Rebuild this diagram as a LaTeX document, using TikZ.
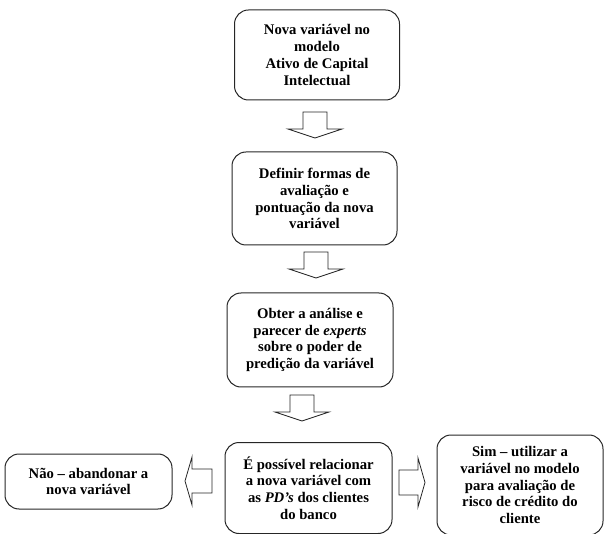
\documentclass[tikz,border=0pt]{standalone}
\usepackage{fontspec}
\setmainfont{Liberation Serif}
\usepackage{tikz}
\usetikzlibrary{positioning}

\newcommand\flowdown[2]{%
  \draw[flowarrow] (#1-12,#2) -- (#1+12,#2) -- (#1+12,#2+17) -- (#1+27,#2+17)
    -- (#1,#2+26) -- (#1-27,#2+17) -- (#1-12,#2+17) -- cycle;
}

\begin{document}
\begin{tikzpicture}[x=1pt, y=-1pt, semithick,
    stepbox/.style={draw=black!85, line width=1pt, rounded corners=14pt,
      align=center, inner sep=1pt,
      font=\fontsize{14.7}{16.8}\selectfont\bfseries},
    flowarrow/.style={draw=black!85, line width=0.8pt, fill=white}]
    \useasboundingbox (0,0) rectangle (605,534);
    % Boxes
    \node[stepbox, minimum width=165pt, minimum height=90pt] (novo) at (317,55)
      {Nova variável no\\modelo\\Ativo de Capital\\Intelectual};
    \node[stepbox, minimum width=165pt, minimum height=93pt] (definir) at (314.5,198.5)
      {Definir formas de\\avaliação e\\pontuação da nova\\variável};
    \node[stepbox, minimum width=166pt, minimum height=94pt] (obter) at (310,340)
      {Obter a análise e\\parecer de \textit{experts}\\sobre o poder de\\predição da variável};
    \node[stepbox, minimum width=167pt, minimum height=91pt] (relacionar) at (308.5,488)
      {É possível relacionar\\a nova variável com\\as \textit{PD’s} dos clientes\\do banco};
    \node[stepbox, minimum width=167pt, minimum height=55pt] (nao) at (88.5,481.5)
      {Não – abandonar a\\nova variável};
    \node[stepbox, minimum width=166pt, minimum height=100pt] (sim) at (520,485)
      {Sim – utilizar a\\variável no modelo\\para avaliação de\\risco de crédito do\\cliente};
    % Arrows down
    \flowdown{315}{112}
    \flowdown{316}{252}
    \flowdown{302}{395}
    % Arrows sideways
    \draw[flowarrow] (212,469) -- (212,493) -- (192,493) -- (192,505) -- (185,481)
      -- (192,457) -- (192,469) -- cycle;
    \draw[flowarrow] (399,470) -- (399,495) -- (418,495) -- (418,507) -- (425,482.5)
      -- (418,458) -- (418,470) -- cycle;
\end{tikzpicture}
\end{document}
